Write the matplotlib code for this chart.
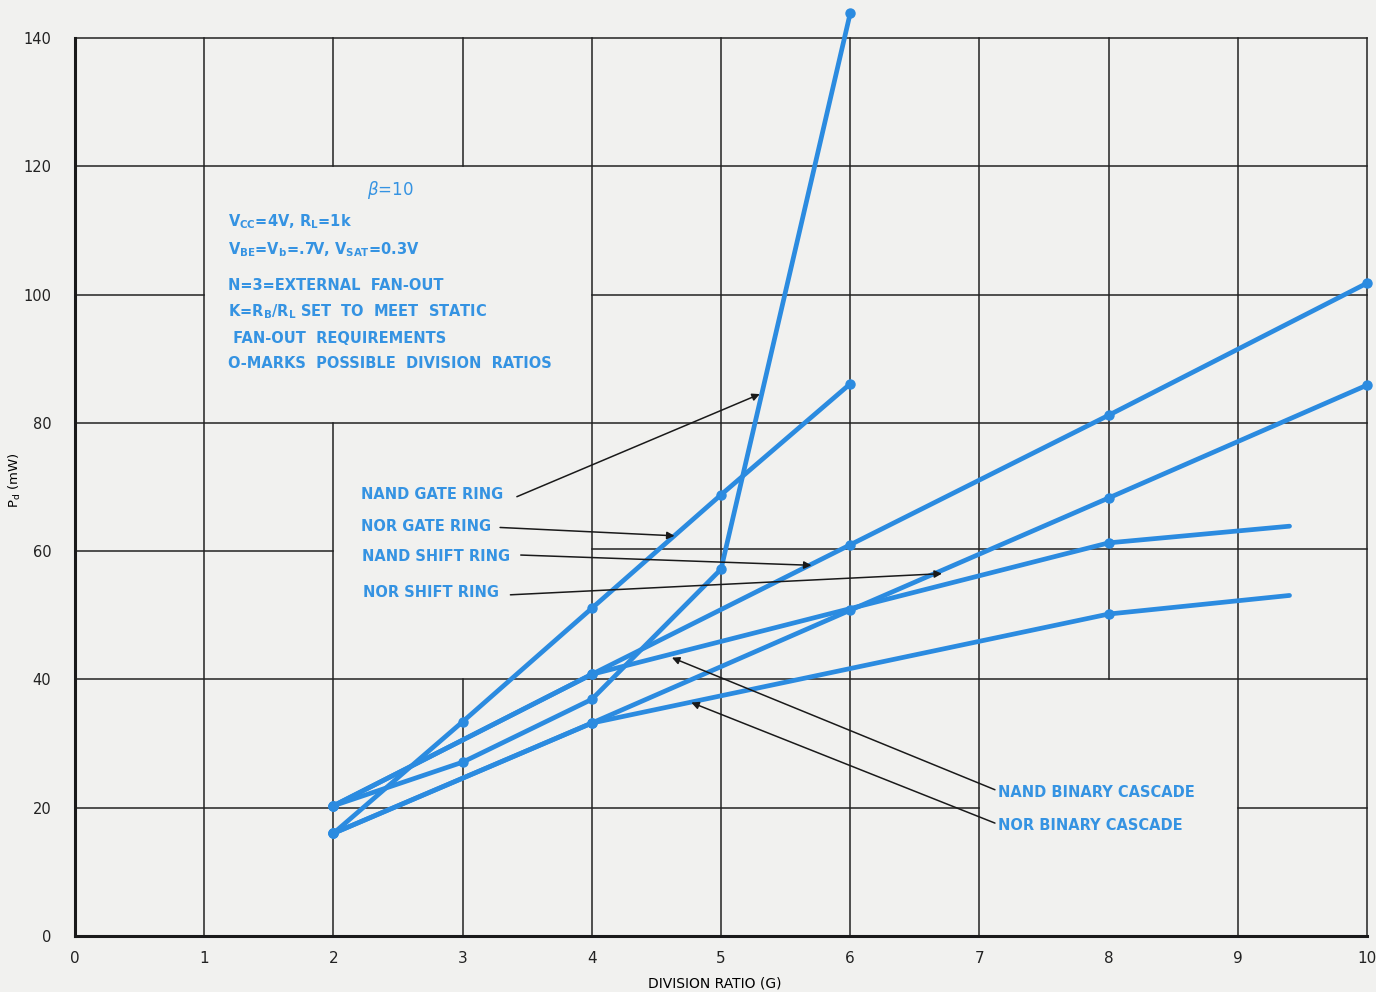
import matplotlib
matplotlib.use("Agg")
import matplotlib.pyplot as plt

# ---- data ----
# gate rings: every integer division ratio 2..6
g_gate = [2, 3, 4, 5, 6]
pd_nand_gate = [20.3, 27.1, 36.9, 57.2, 143.9]
pd_nor_gate = [16.0, 33.4, 51.1, 68.8, 86.1]

# shift rings: even division ratios
g_shift = [2, 4, 6, 8, 10]
pd_nand_shift = [20.3, 40.8, 61.0, 81.2, 101.8]
pd_nor_shift = [16.0, 33.2, 50.8, 68.3, 85.9]

# binary cascades: powers of two, curve drawn on a bit past 8
g_binary = [2, 4, 8, 9.4]
pd_nand_binary = [20.3, 40.8, 61.3, 63.9]
pd_nor_binary = [16.0, 33.2, 50.2, 53.1]

x_ticks = list(range(0, 11))
y_ticks = list(range(0, 141, 20))

notes = [
    r"V$_\mathbf{CC}$=4V, R$_\mathbf{L}$=1k",
    r"V$_\mathbf{BE}$=V$_\mathbf{b}$=.7V, V$_\mathbf{SAT}$=0.3V",
    "N=3=EXTERNAL  FAN-OUT",
    r"K=R$_\mathbf{B}$/R$_\mathbf{L}$ SET  TO  MEET  STATIC",
    " FAN-OUT  REQUIREMENTS",
    "O-MARKS  POSSIBLE  DIVISION  RATIOS",
]

# label text, label anchor (left, middle), arrow start, arrow tip
labels = [
    ("NAND GATE RING", (2.21, 68.9), (3.42, 68.5), (5.30, 84.5)),
    ("NOR GATE RING", (2.21, 63.9), (3.29, 63.7), (4.64, 62.4)),
    ("NAND SHIFT RING", (2.22, 59.1), (3.45, 59.4), (5.70, 57.8)),
    ("NOR SHIFT RING", (2.23, 53.6), (3.37, 53.2), (6.71, 56.5)),
    ("NAND BINARY CASCADE", (7.14, 22.3), (7.12, 22.8), (4.62, 43.4)),
    ("NOR BINARY CASCADE", (7.14, 17.3), (7.12, 17.6), (4.77, 36.4)),
]

# hand-drawn graph paper: some cells are merged
vgrid = [(1, 0, 140), (2, 0, 80), (2, 120, 140), (3, 0, 40), (3, 120, 140),
         (4, 0, 140), (5, 0, 140), (6, 0, 140), (7, 0, 140), (8, 40, 140),
         (9, 0, 140), (10, 0, 140)]
hgrid = [(140, 0, 10), (120, 0, 10), (100, 0, 1), (100, 4, 10), (80, 0, 10),
         (60, 0, 2), (60.3, 4, 10), (40, 0, 10), (20, 0, 7), (20, 9, 10)]

paper = "#f1f1ef"
blue = "#2b8be0"
tblue = "#3593e2"

fig = plt.figure(figsize=(13.76, 9.92), dpi=100, facecolor=paper)
ax = fig.add_axes([0.0545, 0.0565, 0.939, 0.905], facecolor=paper)
ax.set_xlim(0, 10)
ax.set_ylim(0, 140)

for x, y0, y1 in vgrid:
    ax.plot([x, x], [y0, y1], color="#222222", lw=1.1, zorder=1, clip_on=False)
for y, x0, x1 in hgrid:
    ax.plot([x0, x1], [y, y], color="#222222", lw=1.1, zorder=1, clip_on=False)

for s in ["top", "right"]:
    ax.spines[s].set_visible(False)
for s in ["left", "bottom"]:
    ax.spines[s].set_linewidth(2.2)
    ax.spines[s].set_color("#1a1a1a")

series = [
    (g_gate, pd_nand_gate, None),
    (g_gate, pd_nor_gate, None),
    (g_shift, pd_nand_shift, None),
    (g_shift, pd_nor_shift, None),
    (g_binary, pd_nand_binary, [0, 1, 2]),
    (g_binary, pd_nor_binary, [0, 1, 2]),
]
for gx, py, mk in series:
    ax.plot(gx, py, color=blue, lw=3.4, marker="o", ms=6.5, markevery=mk,
            solid_capstyle="round", clip_on=False, zorder=3)

ax.set_xticks(x_ticks)
ax.set_yticks(y_ticks)
ax.set_xticklabels([str(v) for v in x_ticks],
                   family=["Liberation Sans Narrow", "DejaVu Sans"], fontsize=11)
ax.set_yticklabels([str(v) for v in y_ticks], fontsize=10.5, color="#222222")
ax.tick_params(axis="both", length=0, colors="#222222")
ax.tick_params(axis="y", pad=17)
ax.tick_params(axis="x", pad=11)

ax.set_xlabel("DIVISION RATIO (G)", fontsize=10,
              family=["Liberation Sans Narrow", "DejaVu Sans"])
ax.xaxis.set_label_coords(0.495, -0.045)
ax.set_ylabel(r"P$_\mathrm{d}$ (mW)", fontsize=9.5)
ax.yaxis.set_label_coords(-0.040, 0.508)

# parameter notes
ax.text(2.44, 116.3, r"$\mathit{\beta}$=10", color=tblue, fontsize=12,
        ha="center", va="center")
note_y = [111.4, 107.0, 101.5, 97.4, 93.2, 89.3]
note_x = [1.184, 1.184, 1.184, 1.184, 1.184, 1.184]
for t, nx, ny in zip(notes, note_x, note_y):
    ax.text(nx, ny, t, color=tblue, fontsize=10.5, fontweight="bold",
            ha="left", va="center")

for t, (lx, ly), start, tip in labels:
    ax.text(lx, ly, t, color=tblue, fontsize=10.5, fontweight="bold",
            ha="left", va="center")
    ax.annotate("", xy=tip, xytext=start,
                arrowprops=dict(arrowstyle="-|>", lw=1.1, color="#1a1a1a",
                                mutation_scale=11, shrinkA=0, shrinkB=0))

fig.savefig("out.png", dpi=100, facecolor=paper)
